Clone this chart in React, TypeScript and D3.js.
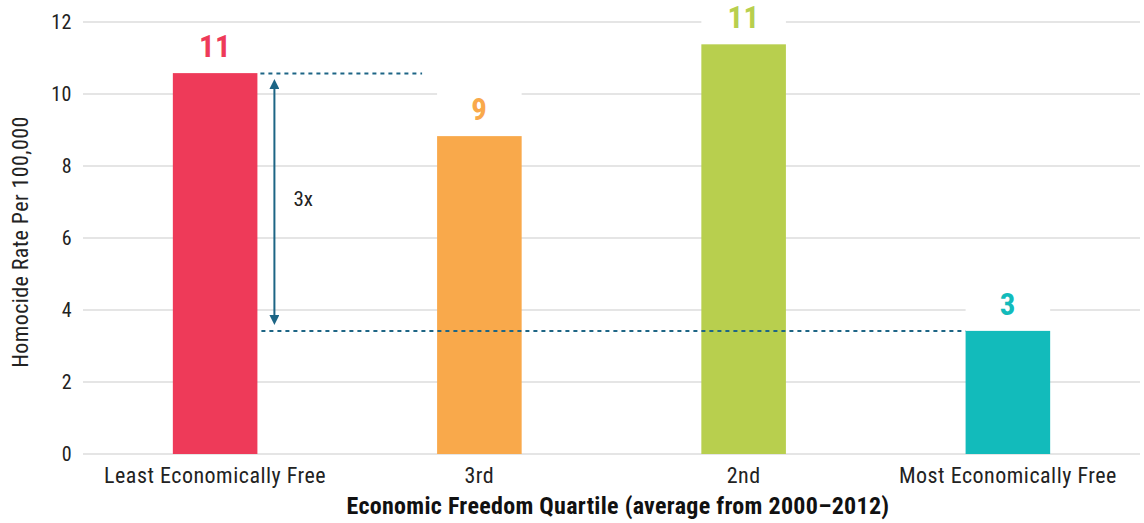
import React, { useEffect, useRef } from 'react';
import * as d3 from 'd3';

const quartiles = ['Least Economically Free', '3rd', '2nd', 'Most Economically Free'];
const homicideRates = [10.58, 8.83, 11.38, 3.42];
const valueLabels = ['11', '9', '11', '3'];
const barColors = ['#EE3A59', '#F9A94B', '#B8CF4E', '#12BBBB'];
const yTicks = [0, 2, 4, 6, 8, 10, 12];
const ratioLabel = '3x';

const width = 1144;
const height = 523;
const margin = { top: 22, right: 4, bottom: 69, left: 83 };
const annotColor = '#1D6585';
const font = "'Roboto Condensed', 'Liberation Sans Narrow', Roboto, sans-serif";

function App() {
  const ref = useRef<SVGSVGElement>(null);

  useEffect(() => {
    const svg = d3.select(ref.current);
    svg.selectAll('*').remove();

    const x = d3
      .scaleBand()
      .domain(quartiles)
      .range([margin.left, width - margin.right])
      .paddingInner(0.68)
      .paddingOuter(0.34);

    const y = d3
      .scaleLinear()
      .domain([0, 12])
      .range([height - margin.bottom, margin.top]);

    const defs = svg.append('defs');
    ['start', 'end'].forEach((k) => {
      defs
        .append('marker')
        .attr('id', 'arrow-' + k)
        .attr('viewBox', '0 0 10 10')
        .attr('refX', 5)
        .attr('refY', 5)
        .attr('markerWidth', 5)
        .attr('markerHeight', 5)
        .attr('orient', k === 'start' ? 'auto-start-reverse' : 'auto')
        .append('path')
        .attr('d', 'M0,0 L10,5 L0,10 Z')
        .attr('fill', annotColor);
    });

    // gridlines
    svg
      .append('g')
      .selectAll('line')
      .data(yTicks)
      .enter()
      .append('line')
      .attr('x1', margin.left)
      .attr('x2', width - margin.right)
      .attr('y1', (d) => y(d))
      .attr('y2', (d) => y(d))
      .attr('stroke', '#dcdcdc')
      .attr('stroke-width', 1.5);

    // y tick labels
    svg
      .append('g')
      .selectAll('text')
      .data(yTicks)
      .enter()
      .append('text')
      .attr('x', margin.left - 11)
      .attr('y', (d) => y(d))
      .attr('dy', '0.35em')
      .attr('text-anchor', 'end')
      .style('font-family', font)
      .style('font-size', '20px')
      .style('letter-spacing', '0.5px')
      .attr('fill', '#222')
      .text((d) => d);

    // bars
    svg
      .append('g')
      .selectAll('rect')
      .data(homicideRates)
      .enter()
      .append('rect')
      .attr('x', (d, i) => x(quartiles[i]))
      .attr('y', (d) => y(d))
      .attr('width', x.bandwidth())
      .attr('height', (d) => y(0) - y(d))
      .attr('fill', (d, i) => barColors[i]);

    // value labels with white backing
    const labels = svg
      .append('g')
      .selectAll('g')
      .data(homicideRates)
      .enter()
      .append('g');

    labels
      .append('rect')
      .attr('x', (d, i) => x(quartiles[i]))
      .attr('y', (d) => y(d) - 46)
      .attr('width', x.bandwidth())
      .attr('height', 34)
      .attr('fill', 'white');

    labels
      .append('text')
      .attr('x', (d, i) => x(quartiles[i]) + x.bandwidth() / 2)
      .attr('y', (d) => y(d) - 16)
      .attr('text-anchor', 'middle')
      .style('font-family', font)
      .style('font-size', '31px')
      .style('font-weight', 'bold')
      .style('letter-spacing', '0.5px')
      .attr('fill', (d, i) => barColors[i])
      .text((d, i) => valueLabels[i]);

    // x tick labels
    svg
      .append('g')
      .selectAll('text')
      .data(quartiles)
      .enter()
      .append('text')
      .attr('x', (d) => x(d) + x.bandwidth() / 2)
      .attr('y', y(0) + 29)
      .attr('text-anchor', 'middle')
      .style('font-family', font)
      .style('font-size', '22px')
      .style('letter-spacing', '0.5px')
      .attr('fill', '#222')
      .text((d) => d);

    // axis titles
    svg
      .append('text')
      .attr('x', 618)
      .attr('y', height - 9)
      .attr('text-anchor', 'middle')
      .style('font-family', font)
      .style('font-size', '24px')
      .style('font-weight', 'bold')
      .style('letter-spacing', '0.3px')
      .attr('fill', '#111')
      .text('Economic Freedom Quartile (average from 2000\u20132012)');

    svg
      .append('text')
      .attr('transform', `translate(28, ${(y(0) + y(12)) / 2 + 4}) rotate(-90)`)
      .attr('text-anchor', 'middle')
      .style('font-family', font)
      .style('font-size', '22px')
      .style('letter-spacing', '0.4px')
      .attr('fill', '#222')
      .text('Homocide Rate Per 100,000');

    // comparison annotation
    const least = quartiles[0];
    const most = quartiles[3];
    const xRight = x(least) + x.bandwidth();
    const yHigh = y(homicideRates[0]);
    const yLow = y(homicideRates[3]);

    svg
      .append('line')
      .attr('x1', xRight + 3)
      .attr('x2', x(quartiles[1]) - 15)
      .attr('y1', yHigh + 0.5)
      .attr('y2', yHigh + 0.5)
      .attr('stroke', annotColor)
      .attr('stroke-width', 2)
      .attr('stroke-dasharray', '4,4');

    svg
      .append('line')
      .attr('x1', xRight + 4)
      .attr('x2', x(most))
      .attr('y1', yLow)
      .attr('y2', yLow)
      .attr('stroke', annotColor)
      .attr('stroke-width', 2)
      .attr('stroke-dasharray', '4,4');

    svg
      .append('line')
      .attr('x1', xRight + 17)
      .attr('x2', xRight + 17)
      .attr('y1', yHigh + 11)
      .attr('y2', yLow - 11)
      .attr('stroke', annotColor)
      .attr('stroke-width', 2)
      .attr('marker-start', 'url(#arrow-start)')
      .attr('marker-end', 'url(#arrow-end)');

    svg
      .append('text')
      .attr('x', xRight + 36)
      .attr('y', (yHigh + yLow) / 2 - 3)
      .attr('dy', '0.35em')
      .style('font-family', font)
      .style('font-size', '21px')
      .attr('fill', '#222')
      .text(ratioLabel);
  }, []);

  return (
    <svg
      ref={ref}
      width={width}
      height={height}
      style={{ position: 'absolute', left: 0, top: 0, background: 'white' }}
    />
  );
}

export default App;
